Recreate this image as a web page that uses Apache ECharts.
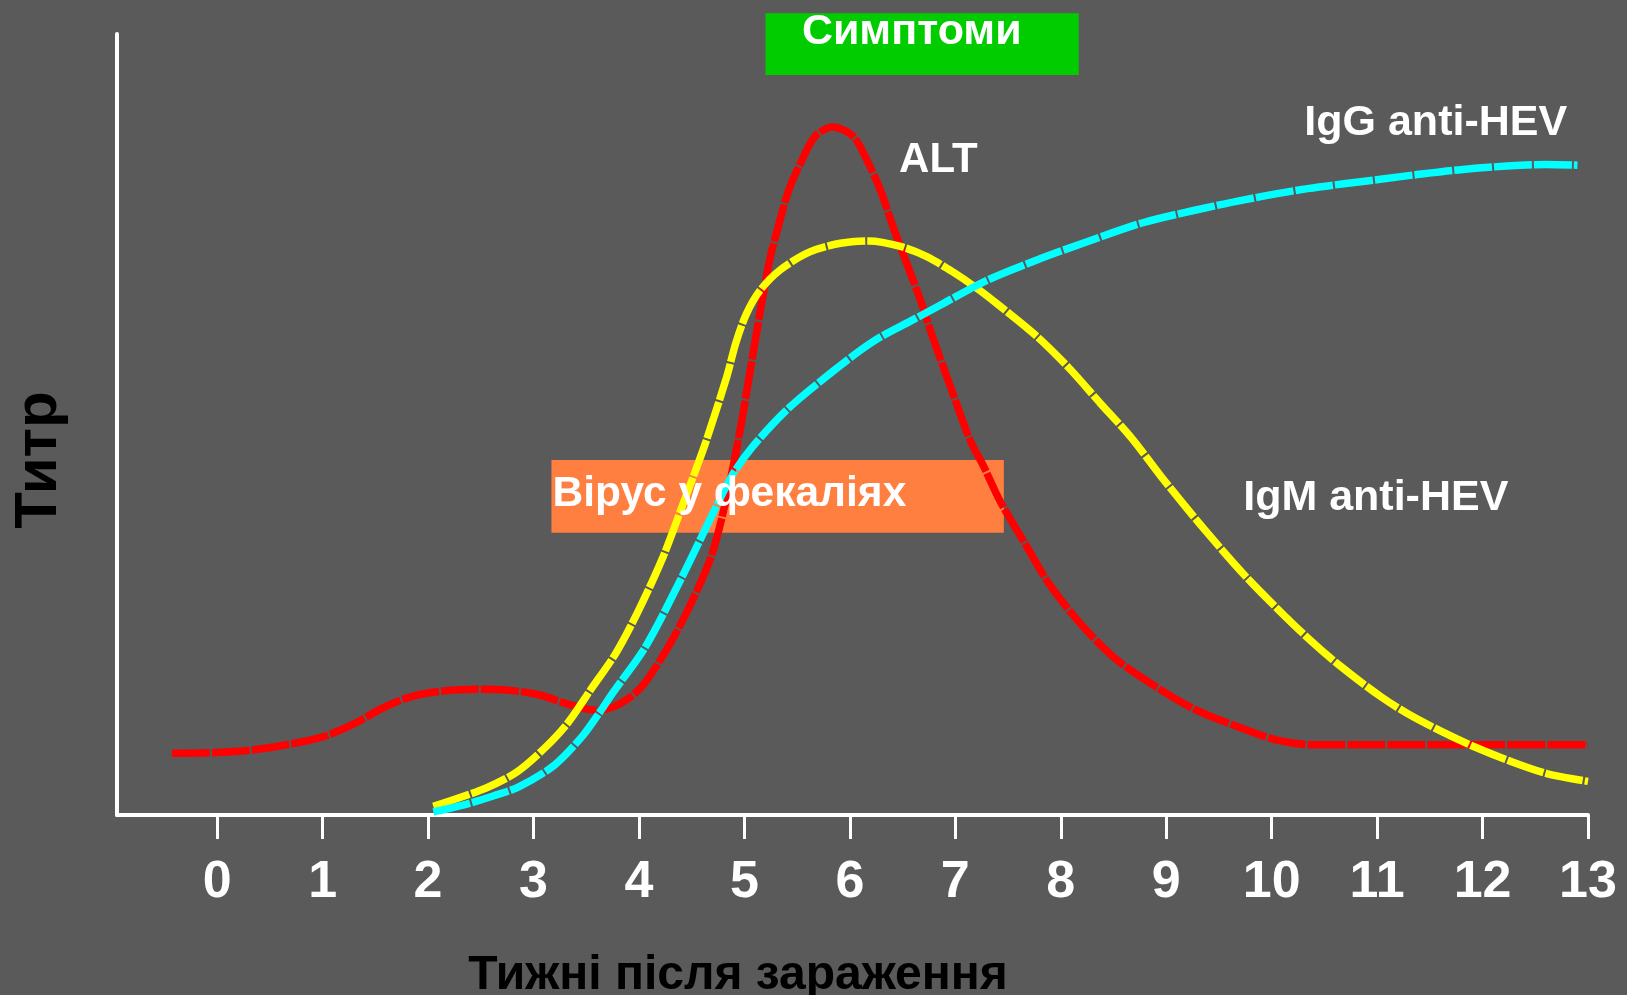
<!DOCTYPE html>
<html>
<head>
<meta charset="utf-8">
<script src="https://cdn.jsdelivr.net/npm/echarts@6/dist/echarts.min.js"></script>
<style>
html,body{margin:0;padding:0;background:#5a5a5a;}
#chart{width:1627px;height:995px;}
</style>
</head>
<body>
<div id="chart"></div>
<script>
// ---- data ----
const weekTicks = [0,1,2,3,4,5,6,7,8,9,10,11,12,13];

const altData = [
  [-0.43,7.9],[-0.02,8.0],[0.31,8.3],[0.66,9.0],[1.0,10.0],[1.30,11.7],[1.57,13.7],[1.85,15.2],
  [2.16,15.9],[2.46,16.1],[2.74,16.0],[3.05,15.4],[3.35,14.1],[3.60,13.4],[3.75,13.8],[3.92,15.1],
  [4.06,17.0],[4.29,21.8],[4.49,27.0],[4.69,33.3],[4.83,40.6],[4.95,48.6],[5.05,56.5],[5.15,64.5],
  [5.24,71.1],[5.32,75.3],[5.42,80.0],[5.53,83.4],[5.67,86.9],[5.84,88.1],[6.03,86.9],
  [6.16,83.9],[6.29,80.0],[6.41,75.3],[6.54,70.6],[6.67,65.9],[6.79,61.0],[6.95,55.0],[7.14,48.0],
  [7.27,44.6],[7.42,40.3],[7.65,35.0],[7.88,29.8],[8.18,24.6],[8.52,20.0],[8.87,16.7],[9.26,13.6],
  [9.66,11.4],[10.05,9.6],[10.39,9.0],[11.0,9.0],[12.0,9.0],[13.0,9.0]
];

const igmData = [
  [2.05,1.1],[2.54,3.4],[2.84,5.5],[3.10,8.5],[3.32,11.7],[3.55,16.2],[3.78,20.7],[4.0,26.3],
  [4.23,33.1],[4.42,39.9],[4.55,44.6],[4.64,48.0],[4.83,56.0],[4.92,60.5],[5.02,64.2],[5.15,67.2],
  [5.34,69.8],[5.62,72.1],[5.91,73.2],[6.18,73.5],[6.48,72.8],[6.73,71.5],[6.98,69.5],[7.23,67.2],
  [7.42,65.2],[7.78,61.2],[8.08,57.2],[8.37,52.8],[8.67,48.3],[8.96,43.2],[9.36,36.6],[9.75,30.6],
  [10.04,26.6],[10.34,22.7],[10.63,19.3],[11.03,15.2],[11.30,12.9],[11.61,10.7],[11.91,8.8],
  [12.26,6.9],[12.61,5.3],[13.0,4.3]
];

const iggData = [
  [2.05,0.4],[2.34,1.3],[2.61,2.4],[2.86,3.6],[3.20,6.4],[3.47,10.2],[3.62,13.0],[3.75,15.6],
  [4.06,21.5],[4.39,30.0],[4.69,38.3],[4.88,43.4],[5.08,47.2],[5.42,52.1],[5.81,56.5],
  [6.10,59.5],[6.29,61.2],[6.57,63.2],[6.86,65.3],[7.29,68.4],[7.78,71.1],[8.27,73.5],
  [8.77,75.8],[9.26,77.4],[9.75,78.8],[10.34,80.2],[11.03,81.4],[11.38,82.0],[11.77,82.6],
  [12.23,83.1],[12.61,83.3],[12.90,83.2]
];

// shaded periods (x from/to in weeks, y top/bottom in titre units)
const boxNames = ['Симптоми', 'Вірус у фекаліях'];
const boxX0 = [5.20, 3.17];
const boxX1 = [8.17, 7.46];
const boxYTop = [102.65, 45.45];
const boxYBottom = [94.75, 36.15];

// text annotations anchored in data units
const labelTexts = ['ALT', 'IgG anti-HEV', 'IgM anti-HEV', 'Симптоми', 'Вірус у фекаліях'];
const labelX = [6.467, 10.31, 9.73, 5.545, 3.18];
const labelY = [83.75, 88.6, 40.6, 100.2, 41.1];

const xTitle = 'Тижні після зараження';
const yTitle = 'Титр';

// ---- styles ----
const FONT = '"Liberation Sans", Arial, sans-serif';
const boxColors = ['#00cc00', '#ff7f40'];
const labelSizes = [42, 43, 43, 43, 42.5];
const dash = [38, 2];
const LW = 7.5;

const chart = echarts.init(document.getElementById('chart'));

const boxRows = boxNames.map((n, i) => [boxX0[i], boxYTop[i], boxX1[i], boxYBottom[i]]);
const labelRows = labelTexts.map((t, i) => [labelX[i], labelY[i]]);

const option = {
  backgroundColor: '#5a5a5a',
  animation: false,
  grid: { left: 117, right: 39, top: 34, bottom: 180, containLabel: false },
  xAxis: {
    type: 'value', min: -0.95, max: 13,
    axisLine: { show: true, onZero: false, lineStyle: { color: '#ffffff', width: 4 } },
    axisTick: { show: true, customValues: weekTicks, length: 24, lineStyle: { color: '#ffffff', width: 3 } },
    axisLabel: { show: true, customValues: weekTicks, color: '#ffffff', fontSize: 52, fontWeight: 'bold', fontFamily: FONT, margin: 42 },
    splitLine: { show: false }
  },
  yAxis: {
    type: 'value', min: 0, max: 100,
    axisLine: { show: true, onZero: false, lineStyle: { color: '#ffffff', width: 4 } },
    axisTick: { show: false },
    axisLabel: { show: false },
    splitLine: { show: false }
  },
  graphic: [
    { type: 'text', x: 738, y: 976, z: 10,
      style: { text: xTitle, fill: '#000000', font: 'bold 48px ' + FONT, align: 'center', verticalAlign: 'middle' } },
    { type: 'text', x: 39, y: 460, rotation: Math.PI / 2, z: 10,
      style: { text: yTitle, fill: '#000000', font: 'bold 60px ' + FONT, align: 'center', verticalAlign: 'middle' } }
  ],
  series: [
    {
      type: 'custom', name: 'boxes', z: 1, clip: false,
      data: boxRows,
      encode: { x: [0, 2], y: [1, 3] },
      renderItem: function (params, api) {
        const p0 = api.coord([api.value(0), api.value(1)]);
        const p1 = api.coord([api.value(2), api.value(3)]);
        return { type: 'rect',
          shape: { x: p0[0], y: p0[1], width: p1[0] - p0[0], height: p1[1] - p0[1] },
          style: { fill: boxColors[params.dataIndex] } };
      }
    },
    {
      type: 'line', name: 'ALT', data: altData, smooth: 0.3, symbol: 'none', z: 3,
      lineStyle: { color: '#ff0000', width: LW, type: dash, cap: 'butt' }
    },
    {
      type: 'line', name: 'IgM anti-HEV', data: igmData, smooth: 0.3, symbol: 'none', z: 3,
      lineStyle: { color: '#ffff00', width: LW, type: dash, cap: 'butt' }
    },
    {
      type: 'line', name: 'IgG anti-HEV', data: iggData, smooth: 0.3, symbol: 'none', z: 3,
      lineStyle: { color: '#00ffff', width: LW, type: dash, cap: 'butt' }
    },
    {
      type: 'custom', name: 'labels', z: 5, clip: false,
      data: labelRows,
      encode: { x: 0, y: 1 },
      renderItem: function (params, api) {
        const p = api.coord([api.value(0), api.value(1)]);
        const i = params.dataIndex;
        return { type: 'text', x: p[0], y: p[1],
          style: { text: labelTexts[i], fill: '#ffffff',
            font: 'bold ' + labelSizes[i] + 'px ' + FONT,
            align: 'left', verticalAlign: 'middle' } };
      }
    }
  ]
};
chart.setOption(option);
</script>
</body>
</html>
